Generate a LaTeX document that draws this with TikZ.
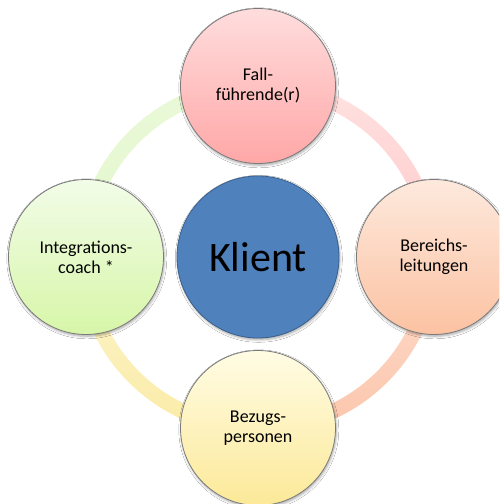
\documentclass[tikz,border=0pt]{standalone}
\usepackage{fontspec}
\setmainfont{Carlito}
\usetikzlibrary{shadows.blur}
\definecolor{trT}{HTML}{FFE2E2}\definecolor{trB}{HTML}{FFC8C8}
\definecolor{brT}{HTML}{FDDDCD}\definecolor{brB}{HTML}{FCC5AB}
\definecolor{blT}{HTML}{FCF5CF}\definecolor{blB}{HTML}{FBEBA5}
\definecolor{tlT}{HTML}{EAF9D9}\definecolor{tlB}{HTML}{E3F7CC}
\definecolor{faT}{HTML}{FFDDDD}\definecolor{faB}{HTML}{FFA7A7}
\definecolor{beT}{HTML}{FDE9DD}\definecolor{beB}{HTML}{FCC2A2}
\definecolor{bzT}{HTML}{FFFCE4}\definecolor{bzB}{HTML}{FCE998}
\definecolor{inT}{HTML}{F2FCE8}\definecolor{inB}{HTML}{D7F6A8}
\definecolor{klFill}{HTML}{4F81BD}\definecolor{klLine}{HTML}{3A5F8B}
\definecolor{rimgray}{HTML}{7A7A7A}
\tikzset{
  outer/.style={circle, draw=rimgray, line width=0.8pt, minimum size=155pt, inner sep=0pt,
    align=center, font=\fontsize{18}{20}\selectfont,
    blur shadow={shadow xshift=0.8pt, shadow yshift=-1.8pt, shadow blur radius=2.5pt, shadow opacity=35}},
  core/.style={circle, draw=klLine, line width=0.8pt, fill=klFill, minimum size=162pt, inner sep=0pt,
    font=\fontsize{42}{46}\selectfont,
    blur shadow={shadow xshift=0.8pt, shadow yshift=-1.8pt, shadow blur radius=2.5pt, shadow opacity=35}},
}
\begin{document}
\begin{tikzpicture}[x=1pt,y=1pt]
\useasboundingbox (0,0) rectangle (499,504);
\clip (0,0) rectangle (499,504);
\fill[white] (0,0) rectangle (499,504);
% ring bands (centre 258,247; radii 174 x 171; width 15)
\shade[top color=trT, bottom color=trB]
  (439.5,247) arc[start angle=0,end angle=90,x radius=181.5,y radius=178.5]
  -- (258,410.5) arc[start angle=90,end angle=0,x radius=166.5,y radius=163.5] -- cycle;
\shade[top color=tlT, bottom color=tlB]
  (258,425.5) arc[start angle=90,end angle=180,x radius=181.5,y radius=178.5]
  -- (91.5,247) arc[start angle=180,end angle=90,x radius=166.5,y radius=163.5] -- cycle;
\shade[top color=blT, bottom color=blB]
  (76.5,247) arc[start angle=180,end angle=270,x radius=181.5,y radius=178.5]
  -- (258,83.5) arc[start angle=270,end angle=180,x radius=166.5,y radius=163.5] -- cycle;
\shade[top color=brT, bottom color=brB]
  (258,68.5) arc[start angle=270,end angle=360,x radius=181.5,y radius=178.5]
  -- (424.5,247) arc[start angle=360,end angle=270,x radius=166.5,y radius=163.5] -- cycle;
% circles
\node[outer, top color=faT, bottom color=faB] (fall) at (258,418) {Fall-\\führende(r)};
\node[outer, top color=beT, bottom color=beB] (bereich) at (434,247) {Bereichs-\\leitungen};
\node[outer, top color=bzT, bottom color=bzB] (bezug) at (258,76) {Bezugs-\\personen};
\node[outer, top color=inT, bottom color=inB] (integ) at (86,247) {Integrations-\\coach *};
\node[core] (klient) at (258,247) {Klient};
\end{tikzpicture}
\end{document}
